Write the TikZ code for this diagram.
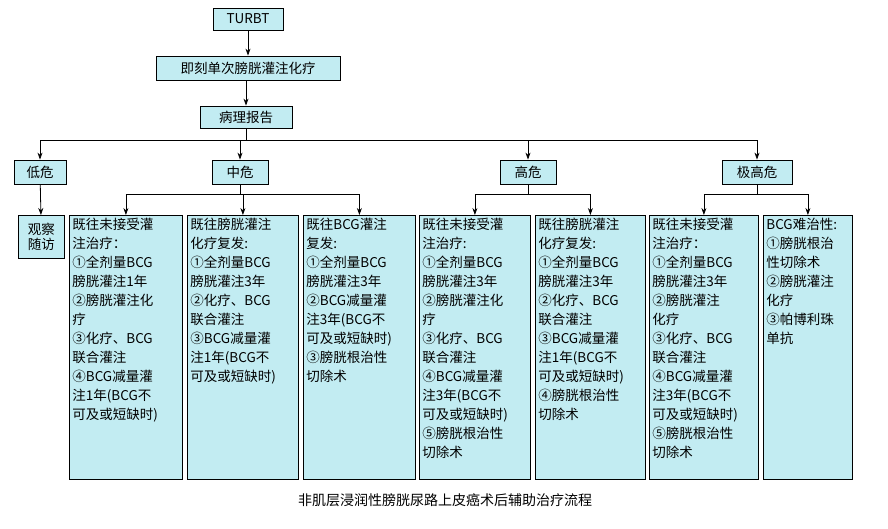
\documentclass[tikz,border=0pt]{standalone}
\usepackage{fontspec}
\newfontfamily\cjk{Noto Sans CJK SC}
\definecolor{boxcyan}{HTML}{C2ECF2}
\usetikzlibrary{positioning,arrows.meta}
\newcommand{\colbox}[2]{\parbox[c][258pt][t]{#1}{\raggedright #2}}
\begin{document}
\begin{tikzpicture}[x=1pt,y=-1pt,
    font=\cjk\fontsize{13.5}{19}\selectfont,
    every node/.style={draw, thick, fill=boxcyan, inner sep=2pt},
    tallbox/.style={anchor=north west, inner sep=3pt},
    arr/.style={thick, -{Stealth[length=7pt,width=5pt]}}]
    \useasboundingbox (0,0) rectangle (888,529);
    \node[minimum width=70pt, minimum height=22pt] (turbt) at (248,19) {TURBT};
    \node[minimum width=184pt, minimum height=24pt] (instill) at (248,68) {即刻单次膀胱灌注化疗};
    \node[minimum width=92pt, minimum height=22pt] (path) at (246,117) {病理报告};
    \node[minimum width=52pt, minimum height=24pt] (low) at (40,172) {低危};
    \node[minimum width=56pt, minimum height=24pt] (mid) at (240,172) {中危};
    \node[minimum width=56pt, minimum height=24pt] (high) at (528,172) {高危};
    \node[minimum width=70pt, minimum height=24pt] (vhigh) at (757,172) {极高危};
    \node[anchor=north west, align=center, minimum width=46pt, minimum height=43pt, inner sep=1pt] (obs) at (18,215) {观察\\[-4pt]随访};

    \node[tallbox] (m1) at (69,215) {\colbox{107pt}{既往未接受灌\\注治疗：\\①全剂量BCG\\膀胱灌注1年\\②膀胱灌注化\\疗\\③化疗、BCG\\联合灌注\\④BCG减量灌\\注1年(BCG不\\可及或短缺时)}};
    \node[tallbox] (m2) at (187,215) {\colbox{105pt}{既往膀胱灌注\\化疗复发:\\①全剂量BCG\\膀胱灌注3年\\②化疗、BCG\\联合灌注\\③BCG减量灌\\注1年(BCG不\\可及或短缺时)}};
    \node[tallbox] (m3) at (303,215) {\colbox{106pt}{既往BCG灌注\\复发:\\①全剂量BCG\\膀胱灌注3年\\②BCG减量灌\\注3年(BCG不\\可及或短缺时)\\③膀胱根治性\\切除术}};
    \node[tallbox] (h1) at (419,215) {\colbox{105pt}{既往未接受灌\\注治疗:\\①全剂量BCG\\膀胱灌注3年\\②膀胱灌注化\\疗\\③化疗、BCG\\联合灌注\\④BCG减量灌\\注3年(BCG不\\可及或短缺时)\\⑤膀胱根治性\\切除术}};
    \node[tallbox] (h2) at (535,215) {\colbox{104pt}{既往膀胱灌注\\化疗复发:\\①全剂量BCG\\膀胱灌注3年\\②化疗、BCG\\联合灌注\\③BCG减量灌\\注1年(BCG不\\可及或短缺时)\\④膀胱根治性\\切除术}};
    \node[tallbox] (v1) at (649,215) {\colbox{103pt}{既往未接受灌\\注治疗：\\①全剂量BCG\\膀胱灌注3年\\②膀胱灌注\\化疗\\③化疗、BCG\\联合灌注\\④BCG减量灌\\注3年(BCG不\\可及或短缺时)\\⑤膀胱根治性\\切除术}};
    \node[tallbox] (v2) at (763,215) {\colbox{83pt}{BCG难治性:\\①膀胱根治\\性切除术\\②膀胱灌注\\化疗\\③帕博利珠\\单抗}};

    \node[draw=none, fill=none, font=\cjk\fontsize{14}{16}\selectfont] (title) at (445,500) {非肌层浸润性膀胱尿路上皮癌术后辅助治疗流程};

    \draw[arr] (turbt) -- (instill);
    \draw[arr] (instill.south -| path) -- (path.north);
    \draw[thick] (path.south) -- ++(0,12) coordinate (split);
    \draw[thick] (40,140) -- (757,140);
    \foreach \r in {low, mid, high, vhigh} \draw[arr] (split -| \r) -- (\r.north);
    \draw[arr] (low) -- (obs);
    % branches below each risk level
    \draw[thick] (mid.south) -- ++(0,10) coordinate (midfork);
    \draw[thick] (midfork -| m1.north) -- (midfork -| m3.north);
    \foreach \b in {m1, m2, m3} \draw[arr] (midfork -| \b.north) -- (\b.north);
    \draw[thick] (high.south) -- ++(0,10) coordinate (highfork);
    \draw[thick] (highfork -| h1.north) -- (highfork -| h2.north);
    \foreach \b in {h1, h2} \draw[arr] (highfork -| \b.north) -- (\b.north);
    \draw[thick] (vhigh.south) -- ++(0,10) coordinate (vfork);
    \draw[thick] (vfork -| v1.north) -- (vfork -| v2.north);
    \foreach \b in {v1, v2} \draw[arr] (vfork -| \b.north) -- (\b.north);
\end{tikzpicture}
\end{document}
